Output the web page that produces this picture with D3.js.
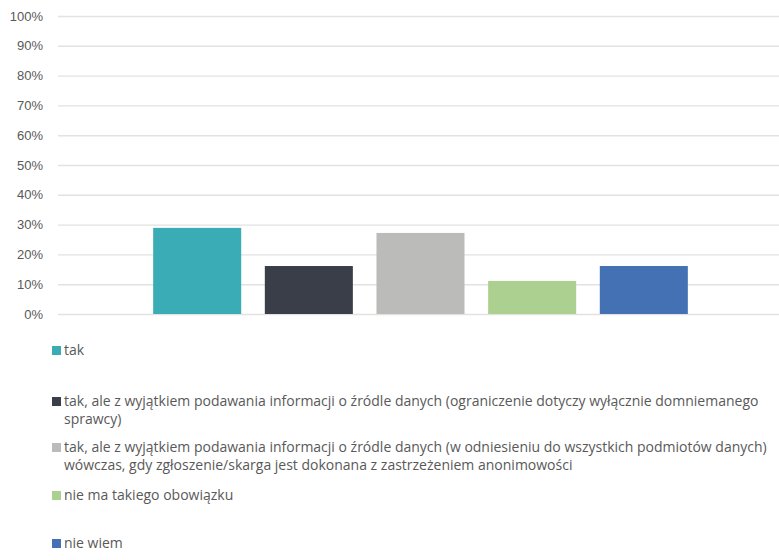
<!DOCTYPE html>
<html>
<head>
<meta charset="utf-8">
<script src="https://cdn.jsdelivr.net/npm/d3@7"></script>
<style>
  html, body { margin: 0; padding: 0; background: #ffffff; }
  svg { display: block; font-family: "Open Sans", "Noto Sans", sans-serif; }
</style>
</head>
<body>
<svg id="chart" width="779" height="560"></svg>
<script>
// Answer options (series) and their shares
const seriesLabels = [
  "tak",
  "tak, ale z wyjątkiem podawania informacji o źródle danych (ograniczenie dotyczy wyłącznie domniemanego sprawcy)",
  "tak, ale z wyjątkiem podawania informacji o źródle danych (w odniesieniu do wszystkich podmiotów danych) wówczas, gdy zgłoszenie/skarga jest dokonana z zastrzeżeniem anonimowości",
  "nie ma takiego obowiązku",
  "nie wiem"
];
const seriesValues = [0.289, 0.161, 0.272, 0.111, 0.161];
const seriesColors = ["#3AACB5", "#3A3E48", "#BBBBB9", "#ABD08F", "#4471B4"];
const yTicks = [0, 0.1, 0.2, 0.3, 0.4, 0.5, 0.6, 0.7, 0.8, 0.9, 1.0];
const categories = [""];

const svg = d3.select("#chart");
const plot = { left: 58, right: 783, top: 16, bottom: 314 };

const y = d3.scaleLinear().domain([0, 1]).range([plot.bottom, plot.top]);

// one category band, with the series grouped inside it
const x0 = d3.scaleBand().domain(categories)
  .range([plot.left, plot.right]).paddingInner(0).paddingOuter(0.178);
const x1 = d3.scaleBand().domain(d3.range(seriesValues.length))
  .range([0, x0.bandwidth()]).paddingInner(0.2116).paddingOuter(0);

// gridlines + tick labels
const yAxis = d3.axisLeft(y)
  .tickValues(yTicks)
  .tickFormat(d3.format(".0%"))
  .tickSize(-(plot.right - plot.left))
  .tickPadding(15);

const gy = svg.append("g")
  .attr("transform", `translate(${plot.left},0)`)
  .call(yAxis);
gy.select(".domain").remove();
gy.selectAll(".tick line").attr("stroke", "#E2E2E2").attr("stroke-width", 1.4);
gy.selectAll(".tick text")
  .attr("fill", "#595959")
  .attr("font-size", "13px");

// bars
const g = svg.append("g").attr("transform", `translate(${x0(categories[0])},0)`);
g.selectAll("rect").data(seriesValues).join("rect")
  .attr("x", (d, i) => x1(i))
  .attr("width", x1.bandwidth())
  .attr("y", d => y(d))
  .attr("height", d => y(0) - y(d))
  .attr("fill", (d, i) => seriesColors[i]);

// legend: one entry per series, long labels wrap onto a second line
const legendTop = [342, 393, 439, 487, 535];
const legendX = 52, textX = 64, lineH = 18, wrapWidth = 705;

const lg = svg.append("g");
seriesLabels.forEach((label, i) => {
  const row = lg.append("g").attr("transform", `translate(0,${legendTop[i]})`);
  row.append("rect")
    .attr("x", legendX).attr("y", 4)
    .attr("width", 9).attr("height", 9)
    .attr("fill", seriesColors[i]);
  const text = row.append("text")
    .attr("fill", "#595959")
    .attr("font-size", "14px");
  // greedy word wrap
  const words = label.split(" ");
  let line = [], lineNo = 0;
  let tspan = text.append("tspan").attr("x", textX).attr("y", 13);
  words.forEach(w => {
    line.push(w);
    tspan.text(line.join(" "));
    if (tspan.node().getComputedTextLength() > wrapWidth && line.length > 1) {
      line.pop();
      tspan.text(line.join(" "));
      line = [w];
      lineNo++;
      tspan = text.append("tspan").attr("x", textX).attr("y", 13 + lineNo * lineH).text(w);
    }
  });
});
</script>
</body>
</html>
